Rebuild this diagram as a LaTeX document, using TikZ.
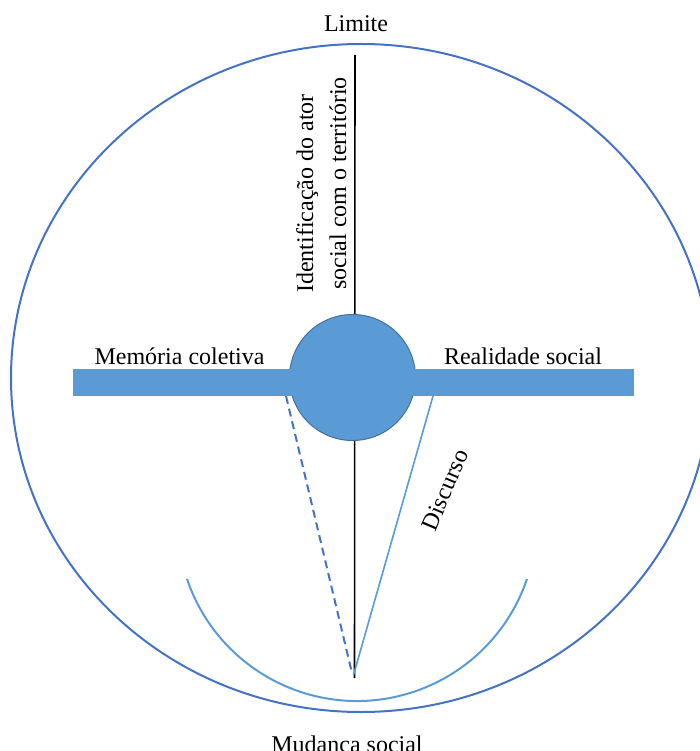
\documentclass[tikz,border=0pt]{standalone}
\usepackage{fontspec}
\setmainfont{Liberation Serif}
\definecolor{ringblue}{HTML}{4472C4}
\definecolor{fillblue}{HTML}{5B9BD5}
\definecolor{edgeblue}{HTML}{41719C}
\tikzset{
  lbl/.style={inner sep=0pt, font=\fontsize{24}{28}\selectfont},
  ring/.style={draw=ringblue, line width=2pt},
  arcline/.style={draw=fillblue, line width=2pt},
  axis/.style={draw=black, line width=1.6pt},
  dashline/.style={draw=ringblue, line width=2pt, dash pattern=on 8pt off 5pt},
  discline/.style={draw=fillblue, line width=1.6pt},
  hub/.style={fill=fillblue, draw=edgeblue, line width=1pt},
  bar/.style={fill=fillblue}
}
\begin{document}
\begin{tikzpicture}[x=1pt, y=-1pt]
\useasboundingbox (0,0) rectangle (700,751);
\clip (0,0) rectangle (700,751);

% key points of the construction
\coordinate (top) at (355,55);
\coordinate (apex) at (354.5,678);
\coordinate (dashstart) at (286,396);
\coordinate (discstart) at (433,396);
\coordinate (disctip) at (353.5,675);
\coordinate (dashtip) at (352,673);

% outer boundary
\draw[ring] (361,378) ellipse [x radius=350, y radius=334];

% lower arc
\draw[arcline] (357,521.6) ++(161.35:179.4) arc[start angle=161.35, end angle=18.65, radius=179.4];

% vertical axis
\draw[axis] (top) -- (apex);

% links down to the apex
\draw[dashline] (dashstart) -- (dashtip);
\draw[discline] (discstart) -- (disctip);

% central hub and horizontal bar
\filldraw[hub] (352.5,377.5) circle [radius=63];
\fill[bar] (73,369) rectangle (634,396);

% labels
\node[lbl, anchor=base] (limite) at (356,32) {Limite};
\node[lbl, anchor=base] (memoria) at (179.5,364) {Memória coletiva};
\node[lbl, anchor=base] (realidade) at (523,364) {Realidade social};
\node[lbl, anchor=base] (mudanca) at (347,752.4) {Mudança social};
\node[lbl, rotate=90, anchor=base west] (ident1) at (313,293) {Identificação do ator};
\node[lbl, rotate=90, anchor=base west] (ident2) at (346,290) {social com o território};
\node[lbl, rotate=67] (discurso) at (445,490) {Discurso};
\end{tikzpicture}
\end{document}
